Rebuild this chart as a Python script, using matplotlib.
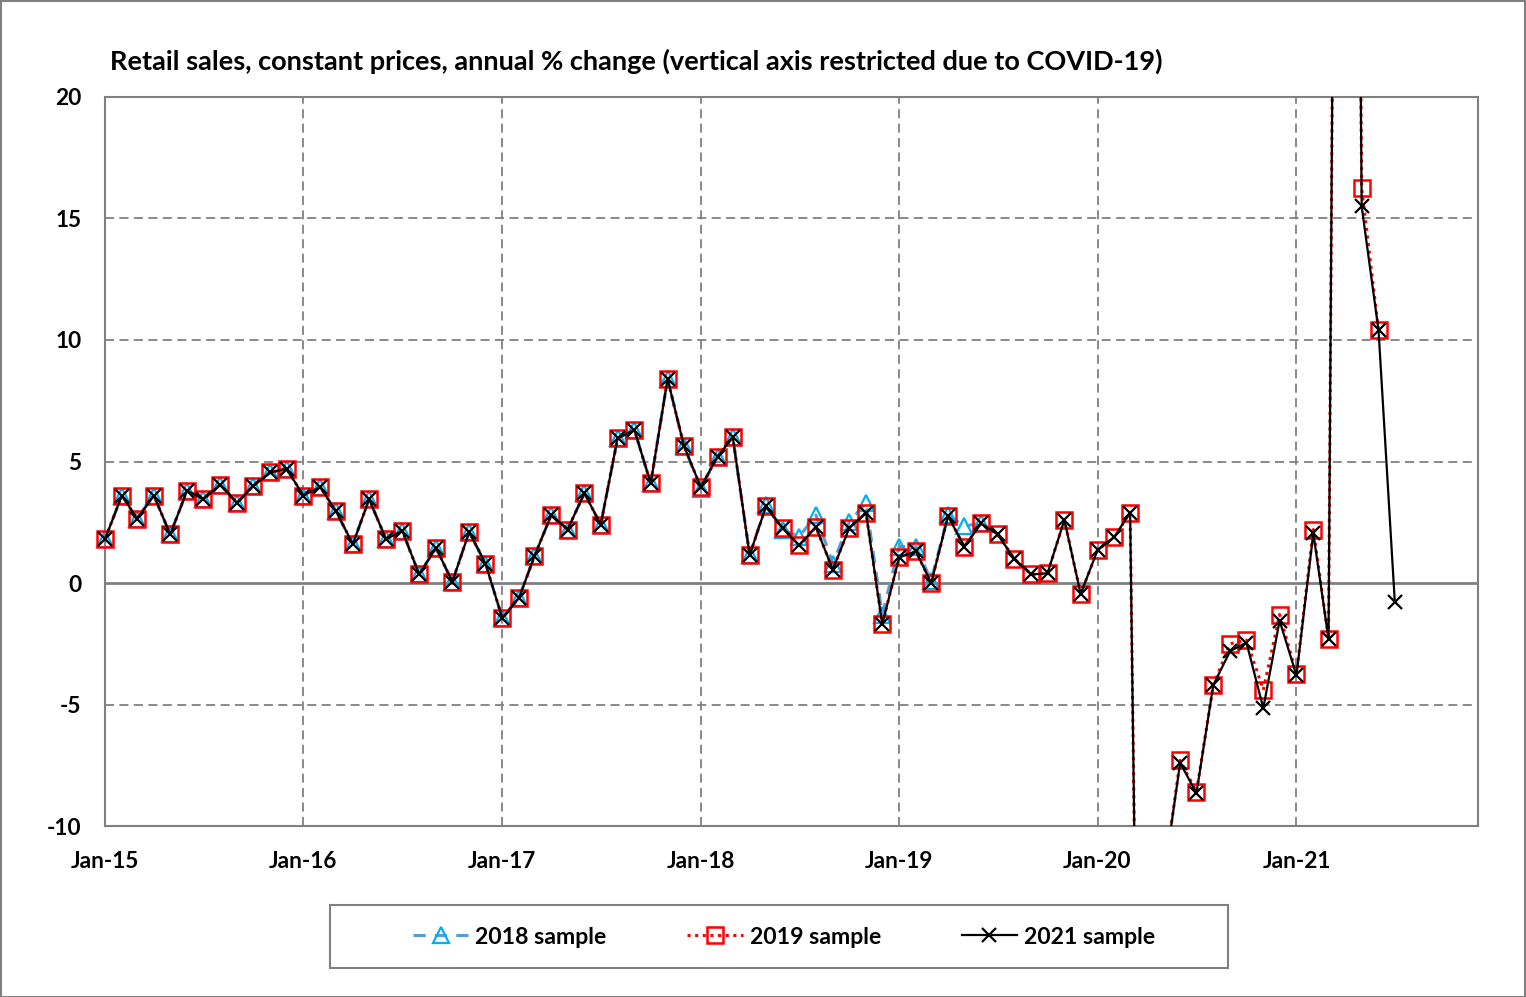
import matplotlib
matplotlib.use("Agg")
import matplotlib.pyplot as plt
import matplotlib.dates as mdates
from matplotlib.patches import Rectangle
import pandas as pd

plt.rcParams['font.family'] = ['Lato', 'DejaVu Sans']

# ---------------- data ----------------
title = "Retail sales, constant prices, annual % change (vertical axis restricted due to COVID-19)"
start_month = "2015-01-01"

sample_2021 = [
    1.8, 3.6, 2.65, 3.6, 2.0, 3.8, 3.45, 4.05, 3.3, 4.0, 4.55, 4.7,        # 2015
    3.6, 3.95, 2.95, 1.6, 3.45, 1.8, 2.15, 0.35, 1.45, 0.05, 2.1, 0.8,     # 2016
    -1.45, -0.6, 1.1, 2.8, 2.2, 3.7, 2.4, 5.95, 6.3, 4.1, 8.4, 5.65,       # 2017
    3.95, 5.2, 6.0, 1.15, 3.15, 2.25, 1.55, 2.3, 0.55, 2.25, 2.9, -1.7,    # 2018
    1.05, 1.3, 0.0, 2.75, 1.5, 2.45, 2.0, 1.0, 0.35, 0.4, 2.6, -0.45,      # 2019
    1.35, 1.9, 2.9, -50.0, -12.3, -7.4, -8.65, -4.2, -2.8, -2.45, -5.15, -1.55,  # 2020
    -3.8, 2.05, -2.3, 100.0, 15.5, 10.4, -0.8,                            # 2021
]

sample_2019 = [
    1.8, 3.6, 2.65, 3.6, 2.0, 3.8, 3.45, 4.05, 3.3, 4.0, 4.55, 4.7,
    3.6, 3.95, 2.95, 1.6, 3.45, 1.8, 2.15, 0.35, 1.45, 0.05, 2.1, 0.8,
    -1.45, -0.6, 1.1, 2.8, 2.2, 3.7, 2.4, 5.95, 6.3, 4.1, 8.4, 5.65,
    3.95, 5.2, 6.0, 1.15, 3.15, 2.25, 1.55, 2.3, 0.55, 2.25, 2.9, -1.7,
    1.05, 1.3, 0.0, 2.75, 1.5, 2.45, 2.0, 1.0, 0.35, 0.4, 2.6, -0.45,
    1.35, 1.9, 2.9, -50.0, -12.3, -7.3, -8.6, -4.2, -2.5, -2.35, -4.4, -1.3,
    -3.75, 2.2, -2.3, 100.0, 16.25, 10.4,
]

sample_2018 = [
    1.8, 3.6, 2.65, 3.6, 2.0, 3.8, 3.45, 4.05, 3.3, 4.0, 4.55, 4.7,
    3.6, 3.95, 2.95, 1.6, 3.45, 1.8, 2.15, 0.35, 1.45, 0.05, 2.1, 0.8,
    -1.45, -0.6, 1.1, 2.8, 2.2, 3.7, 2.4, 5.95, 6.3, 4.1, 8.4, 5.65,
    3.85, 5.2, 6.0, 1.15, 3.2, 2.2, 1.9, 2.8, 0.8, 2.5, 3.3, -1.3,
    1.5, 1.5, 0.1, 2.8, 2.35, 2.45,
]

labels = ["2018 sample", "2019 sample", "2021 sample"]
y_ticks = [-10, -5, 0, 5, 10, 15, 20]
x_tick_years = [2015, 2016, 2017, 2018, 2019, 2020, 2021]

# ---------------- figure ----------------
W, H = 1526, 997
fig = plt.figure(figsize=(W / 100, H / 100), dpi=100)
fig.patch.set_facecolor("white")
fig.patches.append(Rectangle((0.5 / W, 0.5 / H), 1 - 1.5 / W, 1 - 1.5 / H,
                             transform=fig.transFigure, fill=False,
                             edgecolor="#808080", linewidth=1.5))

L, R, T, B = 105, 1478, 97, 826
ax = fig.add_axes([L / W, 1 - B / H, (R - L) / W, (B - T) / H])

def months(n):
    return pd.date_range(start_month, periods=n, freq="MS")

grid_col = "#808080"
ax.axhline(0, color=grid_col, linewidth=2, zorder=1)
for v in y_ticks:
    if v not in (0, -10, 20):
        ax.axhline(v, color=grid_col, linewidth=1.3, linestyle=(0, (5, 3)), zorder=1)
for yr in x_tick_years[1:]:
    ax.axvline(pd.Timestamp(f"{yr}-01-01"), color=grid_col, linewidth=1.3,
               linestyle=(0, (5, 3)), zorder=1)

# clip only vertically (so the first markers are not cut at the left spine)
clip_rect = Rectangle((-0.02, 0), 1.04, 1, transform=ax.transAxes,
                      facecolor="none", edgecolor="none")
ax.add_patch(clip_rect)

l1, = ax.plot(months(len(sample_2018)), sample_2018, linestyle=(0, (4, 3)), color="#5B9BD5",
              linewidth=2.2, marker="^", markersize=11, markerfacecolor="none",
              markeredgecolor="#00B0F0", markeredgewidth=1.6, zorder=3, label=labels[0])
l2, = ax.plot(months(len(sample_2019)), sample_2019, linestyle=(0, (1, 1.5)), color="#FF0000",
              linewidth=2.2, marker="s", markersize=11, markerfacecolor="none",
              markeredgecolor="#FF0000", markeredgewidth=1.8, zorder=4, label=labels[1])
l3, = ax.plot(months(len(sample_2021)), sample_2021, linestyle="-", color="black",
              linewidth=1.6, marker="x", markersize=10, markeredgewidth=1.6,
              zorder=5, label=labels[2])
for ln in (l1, l2, l3):
    ln.set_clip_path(clip_rect)

ax.set_ylim(-10, 20)
ax.set_xlim(pd.Timestamp("2015-01-01"), pd.Timestamp("2021-12-01"))
ax.set_yticks(y_ticks)
ax.set_yticklabels([str(v) for v in y_ticks])
ax.set_xticks([pd.Timestamp(f"{yr}-01-01") for yr in x_tick_years])
ax.xaxis.set_major_formatter(mdates.DateFormatter("%b-%y"))

for s in ax.spines.values():
    s.set_color(grid_col)
    s.set_linewidth(1.5)
ax.tick_params(axis="both", length=0, labelsize=16.3)
ax.tick_params(axis="x", pad=18)
ax.tick_params(axis="y", pad=17)
for lab in ax.get_xticklabels() + ax.get_yticklabels():
    lab.set_fontweight("bold")

fig.text(110 / W, 1 - 61 / H, title, fontsize=19.5, fontweight="bold",
         ha="left", va="center")

# legend box
lx0, lx1, ly0, ly1 = 330, 1228, 905, 968
fig.patches.append(Rectangle((lx0 / W, 1 - ly1 / H), (lx1 - lx0) / W, (ly1 - ly0) / H,
                             transform=fig.transFigure, fill=False,
                             edgecolor="#808080", linewidth=1.5))
leg = fig.legend(loc="center", bbox_to_anchor=((lx0 + lx1) / 2 / W + 5 / W, 1 - 937 / H),
                 ncol=3, frameon=False, fontsize=16.6, handlelength=2.4,
                 columnspacing=3.5, handletextpad=0.3, numpoints=1)
for t in leg.get_texts():
    t.set_fontweight("bold")

fig.savefig("out.png", dpi=100)
